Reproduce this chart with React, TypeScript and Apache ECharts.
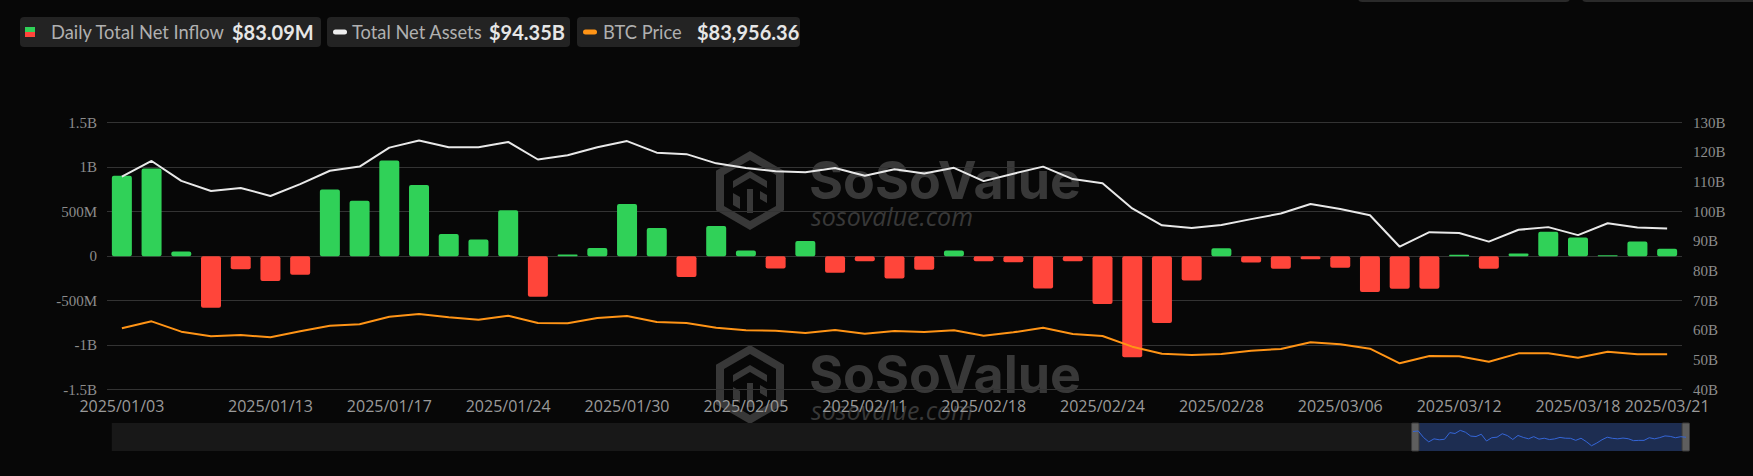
import React, { useEffect, useRef } from "react";
import * as echarts from "echarts";

const dates = [
  "2025/01/03", "2025/01/06", "2025/01/07", "2025/01/08", "2025/01/10", "2025/01/13", "2025/01/14",
  "2025/01/15", "2025/01/16", "2025/01/17", "2025/01/21", "2025/01/22", "2025/01/23", "2025/01/24",
  "2025/01/27", "2025/01/28", "2025/01/29", "2025/01/30", "2025/01/31", "2025/02/03", "2025/02/04",
  "2025/02/05", "2025/02/06", "2025/02/07", "2025/02/10", "2025/02/11", "2025/02/12", "2025/02/13",
  "2025/02/14", "2025/02/18", "2025/02/19", "2025/02/20", "2025/02/21", "2025/02/24", "2025/02/25",
  "2025/02/26", "2025/02/27", "2025/02/28", "2025/03/03", "2025/03/04", "2025/03/05", "2025/03/06",
  "2025/03/07", "2025/03/10", "2025/03/11", "2025/03/12", "2025/03/13", "2025/03/14", "2025/03/17",
  "2025/03/18", "2025/03/19", "2025/03/20", "2025/03/21",
];

// Daily total net inflow, in millions of USD
const dailyNetInflowM = [
  904, 986, 52, -579, -146, -280, -209, 750, 624, 1075, 799, 250, 187, 515, -455, 19, 93, 586, 317,
  -235, 340, 63, -138, 172, -187, -56, -250, -153, 63, -56, -67, -362, -56, -538, -1135, -750, -273,
  90, -71, -142, -34, -131, -403, -366, -366, 15, -142, 30, 276, 209, 11, 164, 83.09,
];

// Total net assets, in billions of USD
const totalNetAssetsB = [
  111.8, 117.1, 110.4, 107.0, 108.0, 105.3, 109.3, 113.8, 115.2, 121.6, 124.0, 121.7, 121.7, 123.5,
  117.6, 119.0, 121.7, 123.8, 119.9, 119.4, 116.3, 114.7, 113.6, 113.3, 114.7, 112.1, 114.3, 112.9,
  114.8, 110.3, 112.8, 115.2, 111.0, 109.6, 101.1, 95.4, 94.5, 95.5, 97.5, 99.4, 102.6, 100.9, 98.8,
  88.2, 93.1, 92.8, 89.9, 93.9, 94.8, 92.1, 96.1, 94.7, 94.35,
];

// BTC price, USD
const btcPrice = [
  98776, 102766, 96876, 94216, 94976, 93646, 97066, 100296, 101056, 105426, 106946, 105046, 103716,
  105996, 101816, 101626, 104666, 105806, 102386, 101816, 99156, 97636, 97446, 96116, 97826, 95736,
  97256, 96686, 97636, 94596, 96496, 99156, 95546, 94406, 88326, 84336, 83576, 84146, 86046, 86996,
  90796, 89656, 87186, 78826, 83006, 82816, 79776, 84526, 84526, 82056, 85476, 83956, 83956.36,
];

const leftTicksM = [-1500, -1000, -500, 0, 500, 1000, 1500];
const rightTicksB = [40, 50, 60, 70, 80, 90, 100, 110, 120, 130];

const legendItems = [
  { name: "Daily Total Net Inflow", value: "$83.09M" },
  { name: "Total Net Assets", value: "$94.35B" },
  { name: "BTC Price", value: "$83,956.36" },
];

const GREEN = "#30D158";
const RED = "#FF453A";
const WHITE = "#E8E8E8";
const ORANGE = "#FF9416";
const BG = "#070707";
const WM = "#383838";

const LOGO_D =
  "M34 0 L68 19.75 L68 59.25 L34 79 L0 59.25 L0 19.75 Z " +
  "M34 9 L8 24 L8 55 L34 70 L60 55 L60 24 Z " +
  "M17 30 L34 20 L51 30 L51 37 L34 27 L17 37 Z " +
  "M31 38 L37 38 L37 62 L31 62 Z " +
  "M17 42 L24 46 L24 58 L17 54 Z " +
  "M44 40 L51 44 L51 52 L44 48 Z";

let logoRegistered = false;
function ensureLogo() {
  if (logoRegistered) return;
  echarts.graphic.registerShape("sosoLogo", echarts.graphic.extendPath(LOGO_D, {}));
  logoRegistered = true;
}

function watermark(dy: number) {
  return [
    { type: "sosoLogo", x: 716, y: 151 + dy, scaleX: 1, scaleY: 1, z: 0, silent: true, style: { fill: WM } },
    {
      type: "text", x: 809, y: 180 + dy, z: 0, silent: true,
      style: { text: "SoSoValue", fill: WM, font: "bold 52px Inter", textVerticalAlign: "middle", textAlign: "left" },
    },
    {
      type: "text", x: 811, y: 216 + dy, z: 0, silent: true,
      style: { text: "sosovalue.com", fill: WM, font: "italic 25px 'Open Sans'", textVerticalAlign: "middle", textAlign: "left" },
    },
  ];
}

function legendGraphics() {
  const boxes = [
    { x: 20, w: 301, labelX: 51, valueX: 232 },
    { x: 327, w: 243, labelX: 352, valueX: 489 },
    { x: 577, w: 223, labelX: 603, valueX: 697 },
  ];
  const els: any[] = [];
  boxes.forEach((b, i) => {
    els.push({ type: "rect", shape: { x: b.x, y: 17, width: b.w, height: 30, r: 4 }, style: { fill: "#232323" }, silent: true });
    if (i === 0) {
      els.push({ type: "rect", shape: { x: 25, y: 27, width: 10, height: 5 }, style: { fill: GREEN }, silent: true });
      els.push({ type: "rect", shape: { x: 25, y: 32, width: 10, height: 5 }, style: { fill: RED }, silent: true });
    } else {
      els.push({
        type: "rect", shape: { x: b.x + 6, y: 29.5, width: 14, height: 5, r: 2.5 },
        style: { fill: i === 1 ? "#EEEEEE" : ORANGE }, silent: true,
      });
    }
    els.push({
      type: "text", x: b.labelX, y: 32, silent: true,
      style: { text: legendItems[i].name, fill: "#B0B0B0", font: "18.3px Lato", textVerticalAlign: "middle" },
    });
    els.push({
      type: "text", x: b.valueX, y: 32, silent: true,
      style: { text: legendItems[i].value, fill: "#E6E6E6", font: "bold 20px Lato", textVerticalAlign: "middle" },
    });
  });
  // buttons clipped by the top edge
  els.push({ type: "rect", shape: { x: 1358, y: -28, width: 212, height: 30, r: 4 }, style: { fill: "#2A2A2A" }, silent: true });
  els.push({ type: "rect", shape: { x: 1582, y: -28, width: 190, height: 30, r: 4 }, style: { fill: "#2A2A2A" }, silent: true });
  return els;
}

const labelShown = (i: number) => i === 0 || i === dates.length - 1 || (i >= 5 && i % 4 === 1);

export default function App() {
  const ref = useRef<HTMLDivElement>(null);
  useEffect(() => {
    document.body.style.margin = "0";
    document.body.style.background = BG;
    ensureLogo();
    const chart = echarts.init(ref.current!, null, { renderer: "svg" });
    const option: any = {
      animation: false,
      backgroundColor: BG,
      graphic: [...watermark(0), ...watermark(194), ...legendGraphics()],
      grid: [
        { left: 107, right: 71, top: 122.7, bottom: 86.3, containLabel: false },
        { left: 111, right: 67, top: 423, height: 28, containLabel: false },
        { left: 1413, right: 67, top: 423, height: 28, containLabel: false },
      ],
      xAxis: [
        {
          type: "category",
          data: dates,
          gridIndex: 0,
          boundaryGap: true,
          axisLine: { show: false },
          axisTick: { show: false },
          axisLabel: {
            interval: (i: number) => labelShown(i),
            color: "#9A9A9A",
            fontSize: 16,
            fontFamily: "'Open Sans'",
            margin: 8,
          },
          splitLine: { show: false },
        },
        { type: "category", data: dates, gridIndex: 1, show: false },
        { type: "category", data: dates, gridIndex: 2, show: false, boundaryGap: false },
      ],
      yAxis: [
        {
          type: "value",
          min: leftTicksM[0],
          max: leftTicksM[leftTicksM.length - 1],
          interval: 500,
          position: "left",
          axisLine: { show: false },
          axisTick: { show: false },
          axisLabel: {
            color: "#8C8C8C",
            fontSize: 15,
            fontFamily: "'Liberation Serif'",
            margin: 10,
            formatter: (v: number) => (v === 0 ? "0" : Math.abs(v) >= 1000 ? `${v / 1000}B` : `${v}M`),
          },
          splitLine: { show: true, lineStyle: { color: "#333333", width: 1 } },
        },
        {
          type: "value",
          min: rightTicksB[0],
          max: rightTicksB[rightTicksB.length - 1],
          interval: 10,
          position: "right",
          axisLine: { show: false },
          axisTick: { show: false },
          axisLabel: {
            color: "#8C8C8C",
            fontSize: 15,
            fontFamily: "'Liberation Serif'",
            margin: 11,
            formatter: (v: number) => `${v}B`,
          },
          splitLine: { show: false },
        },
        { type: "value", min: 63800, max: 216000, show: false, splitLine: { show: false } },
        { type: "value", gridIndex: 1, show: false, splitLine: { show: false } },
        { type: "value", gridIndex: 2, min: -1890, max: 2130, show: false, splitLine: { show: false } },
      ],
      dataZoom: [
        {
          type: "slider",
          xAxisIndex: 1,
          start: 82.7,
          end: 100,
          left: 111,
          right: 67,
          top: 423,
          height: 28,
          showDataShadow: false,
          showDetail: false,
          brushSelect: false,
          moveHandleSize: 0,
          backgroundColor: "#181818",
          borderColor: "transparent",
          fillerColor: "rgba(35,70,150,0.45)",
          handleIcon: "path://M-3,0 h6 a1,1 0 0 1 1,1 v28 a1,1 0 0 1 -1,1 h-6 a1,1 0 0 1 -1,-1 v-28 a1,1 0 0 1 1,-1 Z",
          handleSize: "100%",
          handleStyle: { color: "#5E5E5E", borderColor: "#3A3A3A" },
        },
      ],
      series: [
        {
          name: "Daily Total Net Inflow",
          type: "bar",
          xAxisIndex: 0,
          yAxisIndex: 0,
          barWidth: 20,
          data: dailyNetInflowM.map((v) => ({
            value: v,
            itemStyle: { color: v >= 0 ? GREEN : RED, borderRadius: 2 },
          })),
        },
        {
          name: "Total Net Assets",
          type: "line",
          xAxisIndex: 0,
          yAxisIndex: 1,
          data: totalNetAssetsB,
          symbol: "none",
          lineStyle: { color: WHITE, width: 2 },
          itemStyle: { color: WHITE },
        },
        {
          name: "BTC Price",
          type: "line",
          xAxisIndex: 0,
          yAxisIndex: 2,
          data: btcPrice,
          symbol: "none",
          lineStyle: { color: ORANGE, width: 2 },
          itemStyle: { color: ORANGE },
        },
        {
          name: "mini",
          type: "line",
          xAxisIndex: 1,
          yAxisIndex: 3,
          data: dailyNetInflowM,
          symbol: "none",
          silent: true,
          lineStyle: { opacity: 0 },
        },
        {
          name: "selected shadow",
          type: "line",
          xAxisIndex: 2,
          yAxisIndex: 4,
          data: dailyNetInflowM,
          symbol: "none",
          silent: true,
          z: 10,
          lineStyle: { color: "#3566D8", width: 1 },
        },
      ],
    };
    chart.setOption(option);
    return () => chart.dispose();
  }, []);
  return <div ref={ref} style={{ width: 1753, height: 476 }} />;
}
